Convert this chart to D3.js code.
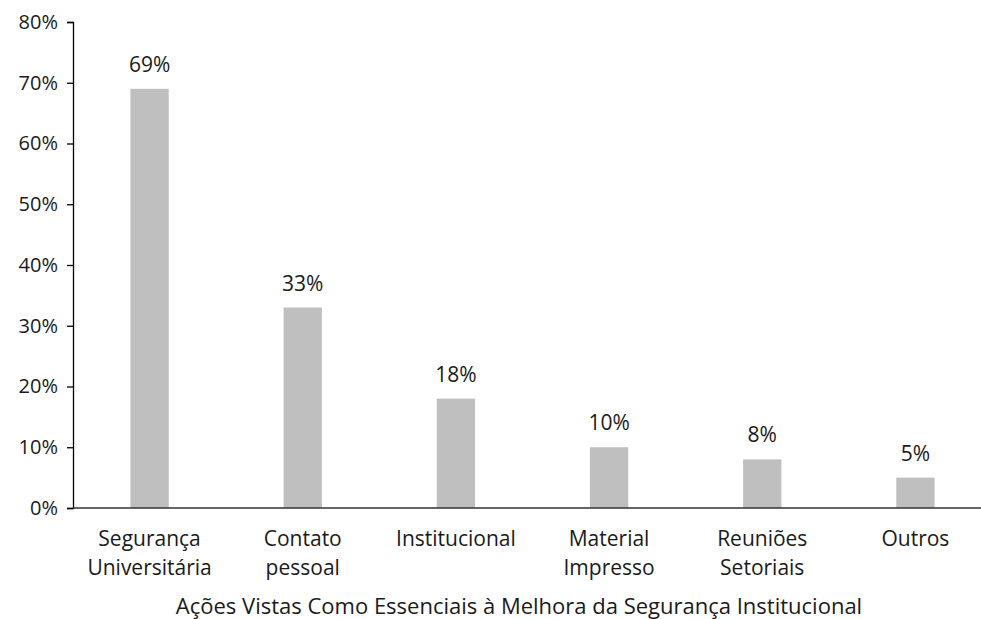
<!DOCTYPE html>
<html>
<head>
<meta charset="utf-8">
<script src="https://cdn.jsdelivr.net/npm/d3@7"></script>
<style>
  html, body { margin: 0; padding: 0; background: #fff; }
  svg text { font-family: "Open Sans", "Noto Sans", sans-serif; fill: #1a1a1a; }
</style>
</head>
<body>
<svg id="chart" width="981" height="619"></svg>
<script>
// Share of respondents per action
const categories = [
  ["Segurança", "Universitária"],
  ["Contato", "pessoal"],
  ["Institucional"],
  ["Material", "Impresso"],
  ["Reuniões", "Setoriais"],
  ["Outros"]
];
const values = [69, 33, 18, 10, 8, 5];
const yTicks = [0, 10, 20, 30, 40, 50, 60, 70, 80];
const axisTitle = "Ações Vistas Como Essenciais à Melhora da Segurança Institucional";

const svg = d3.select("#chart");
const plotLeft = 73, plotRight = 992, plotTop = 22, plotBottom = 508;

const keys = categories.map((c, i) => i);
const x = d3.scaleBand().domain(keys).range([plotLeft, plotRight]).paddingInner(0.75).paddingOuter(0.375);
const y = d3.scaleLinear().domain([0, 80]).range([plotBottom, plotTop]);

// Bars
svg.append("g").selectAll("rect")
  .data(values)
  .join("rect")
  .attr("x", (d, i) => x(i))
  .attr("y", d => y(d))
  .attr("width", x.bandwidth())
  .attr("height", d => y(0) - y(d))
  .attr("fill", "#bfbfbf");

// Value labels
svg.append("g").selectAll("text")
  .data(values)
  .join("text")
  .attr("x", (d, i) => x(i) + x.bandwidth() / 2)
  .attr("y", d => y(d) - 17)
  .attr("text-anchor", "middle")
  .style("font-size", "21px")
  .text(d => d + "%");

// Y axis
const yAxis = svg.append("g")
  .attr("transform", `translate(${plotLeft},0)`)
  .call(d3.axisLeft(y).tickValues(yTicks).tickFormat(d => d + "%").tickSize(6).tickPadding(9));
yAxis.select(".domain").attr("stroke", "#000").attr("stroke-width", 1.3);
yAxis.selectAll(".tick line").attr("stroke", "#000").attr("stroke-width", 1.3);
yAxis.selectAll(".tick text")
  .attr("font-family", null)
  .style("font-size", "20px")
  .attr("fill", null);

// X axis baseline
svg.append("line")
  .attr("x1", plotLeft).attr("x2", plotRight)
  .attr("y1", y(0)).attr("y2", y(0))
  .attr("stroke", "#333").attr("stroke-width", 1.3);

// Category labels
const catG = svg.append("g");
categories.forEach((lines, i) => {
  const cx = x(i) + x.bandwidth() / 2;
  const t = catG.append("text")
    .attr("x", cx)
    .attr("y", 546)
    .attr("text-anchor", "middle")
    .style("font-size", "21px");
  lines.forEach((ln, j) => {
    t.append("tspan")
      .attr("x", cx)
      .attr("dy", j === 0 ? 0 : 29)
      .text(ln);
  });
});

// Axis title
svg.append("text")
  .attr("x", 519)
  .attr("y", 614)
  .attr("text-anchor", "middle")
  .style("font-size", "22px")
  .text(axisTitle);
</script>
</body>
</html>
